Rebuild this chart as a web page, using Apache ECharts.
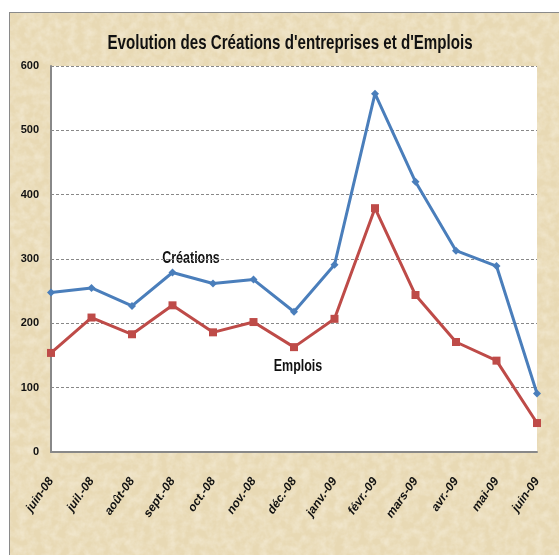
<!DOCTYPE html>
<html>
<head>
<meta charset="utf-8">
<script src="https://cdn.jsdelivr.net/npm/echarts@6/dist/echarts.min.js"></script>
<style>
html,body{margin:0;padding:0;width:559px;height:555px;background:#fff;overflow:hidden;}
#frame{position:absolute;left:9px;top:12px;width:560px;height:560px;border:1px solid #8a8a8a;box-sizing:border-box;
background-color:#e8d9b4;}
#tex{position:absolute;left:0;top:0;width:100%;height:100%;opacity:0.5;}
#chart{position:absolute;left:0;top:0;width:559px;height:555px;}
</style>
</head>
<body>
<div id="frame">
<svg id="tex" xmlns="http://www.w3.org/2000/svg">
<filter id="n"><feTurbulence type="fractalNoise" baseFrequency="0.12" numOctaves="3" seed="4"/>
<feColorMatrix type="matrix" values="0 0 0 0 0.99  0 0 0 0 0.96  0 0 0 0 0.88  0 0 0 1.4 -0.45"/></filter>
<rect width="100%" height="100%" filter="url(#n)"/>
</svg>
</div>
<div id="chart"></div>
<script>
var categories = ['juin-08','juil.-08','août-08','sept.-08','oct.-08','nov.-08','déc.-08','janv.-09','févr.-09','mars-09','avr.-09','mai-09','juin-09'];
var creations = [248,255,227,279,262,268,218,291,557,420,313,289,91];
var emplois = [154,209,183,228,186,202,163,207,379,244,171,142,45];
var yTicks = [0,100,200,300,400,500,600];

var FONT = '"Liberation Sans",Arial,sans-serif';
var chart = echarts.init(document.getElementById('chart'));
chart.setOption({
  animation:false,
  backgroundColor:'transparent',
  grid:{left:51,right:22,top:66,bottom:103,show:true,backgroundColor:'#fff',borderWidth:0},
  xAxis:{
    type:'category', data:categories, boundaryGap:false,
    axisLine:{lineStyle:{color:'#888',width:2}},
    axisTick:{show:false},
    axisLabel:{rotate:55,interval:0,margin:27,fontFamily:FONT,fontStyle:'italic',fontWeight:'bold',fontSize:12,color:'#111'},
    splitLine:{show:false}
  },
  yAxis:{
    type:'value', min:yTicks[0], max:yTicks[yTicks.length-1], interval:100,
    axisLine:{show:true,lineStyle:{color:'#888',width:2}},
    axisTick:{show:false},
    axisLabel:{margin:12,fontFamily:FONT,fontWeight:'bold',fontSize:11,color:'#111'},
    splitLine:{lineStyle:{color:'#888',type:[3,2],width:1}}
  },
  series:[
    {name:'Créations',type:'line',data:creations,symbol:'diamond',symbolSize:8,
     lineStyle:{color:'#4a7ebb',width:3},itemStyle:{color:'#4a7ebb'}},
    {name:'Emplois',type:'line',data:emplois,symbol:'rect',symbolSize:8,
     lineStyle:{color:'#be4b48',width:3},itemStyle:{color:'#be4b48'}}
  ],
  graphic:[
    {type:'text',x:290,y:43,scaleX:0.72,style:{text:"Evolution des Créations d'entreprises et d'Emplois",font:'bold 21px '+FONT,fill:'#111',textAlign:'center',textVerticalAlign:'middle'}},
    {type:'text',x:191,y:259,scaleX:0.78,style:{text:'Créations',font:'bold 16px '+FONT,fill:'#111',textAlign:'center',textVerticalAlign:'middle'}},
    {type:'text',x:298,y:367,scaleX:0.78,style:{text:'Emplois',font:'bold 16px '+FONT,fill:'#111',textAlign:'center',textVerticalAlign:'middle'}}
  ]
});
</script>
</body>
</html>
